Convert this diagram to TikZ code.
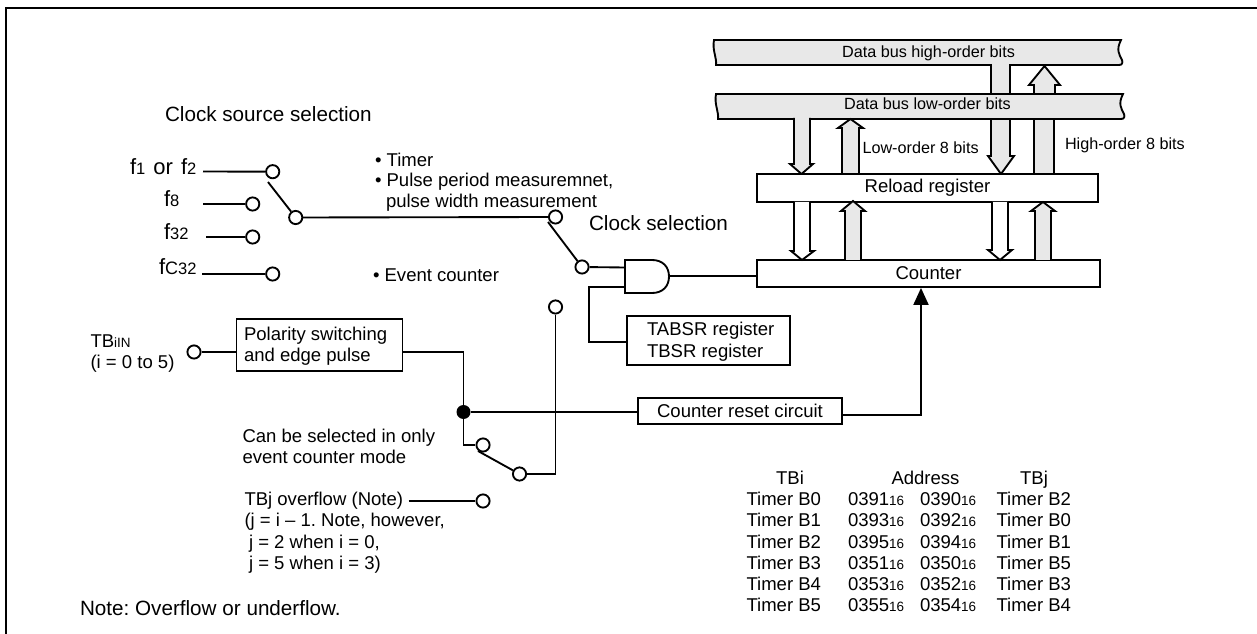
\documentclass[tikz,border=0pt]{standalone}
\usepackage{fontspec}
\setmainfont{Liberation Sans}
\frenchspacing
\newcommand{\sza}{\fontsize{13.9pt}{16pt}\selectfont}
\newcommand{\szb}{\fontsize{12.15pt}{14pt}\selectfont}
\newcommand{\szc}{\fontsize{15.5pt}{18pt}\selectfont}
\newcommand{\szs}{\fontsize{10.1pt}{12pt}\selectfont}
\newcommand{\szf}{\fontsize{16.5pt}{19pt}\selectfont}
\newcommand{\szd}{\fontsize{12.4pt}{14pt}\selectfont}
\newcommand{\szC}{\fontsize{13.5pt}{16pt}\selectfont}
\newcommand{\subs}[1]{{\szs #1}}
\newcommand{\addr}[1]{#1\subs{16}}
\colorlet{busgray}{black!9}
\tikzset{
  x=0.75pt,y=-0.75pt,
  wire/.style={line width=1.4pt,line join=miter},
  term/.style={circle,draw,fill=white,line width=1.4pt,minimum size=9.9pt,inner sep=0pt},
  jdot/.style={circle,fill=black,minimum size=10.5pt,inner sep=0pt},
  boxn/.style={rectangle,draw,fill=white,line width=1.4pt,inner sep=0pt},
  wh/.style 2 args={minimum width=#1*0.75pt,minimum height=#2*0.75pt},
  lbl/.style={inner sep=0pt,outer sep=0pt,anchor=base west,font=\sza,yshift=-0.75pt},
  lblc/.style={inner sep=0pt,outer sep=0pt,anchor=base,font=\sza,yshift=-0.75pt},
  blk/.style={draw,line width=1.4pt,line join=miter,fill=#1},
}
% block arrows: xl xr wl wr xtip ystart yhead ytip colour
\newcommand{\blockarrow}[9]{\path[blk=#9] (#1,#6) -- (#1,#7) -- (#3,#7) -- (#5,#8) -- (#4,#7) -- (#2,#7) -- (#2,#6);}
\begin{document}
\begin{tikzpicture}
\useasboundingbox (0,0) rectangle (1257,634);
\fill[white] (0,0) rectangle (1257,634);
% frame
\draw[line width=1.6pt] (6,634) -- (6,8) -- (1257,8);
% high bus and the arrows that pass behind the low bus
\path[blk=busgray] (714,40) -- (1121,40) .. controls (1116,50) and (1119,54) .. (1122,60) .. controls (1123,63) and (1122,65) .. (1119,65)
  -- (716,65) .. controls (717,58) and (712,50) .. (714,40) -- cycle;
\blockarrow{991}{1010}{991}{1010}{1001}{64}{94}{94}{busgray}
\blockarrow{991}{1010}{988}{1014}{1001}{119}{156}{174}{busgray}
\blockarrow{1034}{1054}{1034}{1054}{1044}{174}{119}{119}{busgray}
\blockarrow{1034}{1055}{1029}{1060}{1044.5}{94}{85}{66}{busgray}
% low bus
\path[blk=busgray] (716,94) -- (1123,94) .. controls (1118,104) and (1121,108) .. (1124,114) .. controls (1125,117) and (1124,119) .. (1121,119)
  -- (718,119) .. controls (719,112) and (714,104) .. (716,94) -- cycle;
\node[lblc,font=\szb] (bushigh) at (928.5,57) {Data bus high-order bits};
\node[lblc,font=\szb] (buslow) at (927.5,108.5) {Data bus low-order bits};
\blockarrow{794}{810}{790}{813}{801.5}{118}{164}{174}{busgray}
\blockarrow{842}{859}{838}{863}{850.5}{174}{128}{119}{busgray}
% register boxes
\node[boxn,wh={341}{28},font=\sza] (reload) at (927.5,188) {Reload register};
\node[boxn,wh={343}{27},font=\sza] (counter) at (928.5,273.5) {Counter};
\node[lbl,font=\szb] (lowbits) at (862.5,153) {Low-order 8 bits};
\node[lbl,font=\szb] (highbits) at (1065,149) {High-order 8 bits};
% block arrows between reload register and counter
\blockarrow{794}{810}{791}{814}{802}{202}{251}{260}{white}
\blockarrow{845}{861}{841}{865}{853}{260}{211}{201}{busgray}
\blockarrow{992}{1008}{988}{1012}{1000}{202}{250}{260}{white}
\blockarrow{1035}{1051}{1031}{1055}{1043}{260}{211}{202}{busgray}
% clock source selection
\node[lbl,font=\szc] (clksrc) at (165,121) {Clock source selection};
\node[lbl,font=\szf] (f1) at (130,173.5) {f{\szd 1}\hspace{1.5pt} or\hspace{1.5pt} f{\szd 2}};
\node[lbl,font=\szf] (f8) at (164,206) {f{\szd 8}};
\node[lbl,font=\szf] (f32) at (164,239) {f{\szd 32}};
\node[lbl,font=\szf] (fc32) at (159,274) {f{\szC C}{\szd 32}};
\coordinate (f1s) at (203,171.5);
\coordinate (f8s) at (203,204);
\coordinate (f32s) at (206,237);
\coordinate (fc32s) at (202,274);
\node[term] (t1) at (272.7,171.7) {};
\node[term] (t8) at (252.7,204) {};
\node[term] (t32) at (252.7,237) {};
\node[term] (tc32) at (272.7,274) {};
\node[term] (srcsw) at (295.7,217.5) {};
\draw[wire] (f1s) -- (t1);
\draw[wire] (f8s) -- (t8);
\draw[wire] (f32s) -- (t32);
\draw[wire] (fc32s) -- (tc32);
\coordinate (lev1) at (268,182);
\draw[wire] (lev1) -- (srcsw);
% mode labels
\node[lbl] (m1) at (375,166) {• Timer};
\node[lbl] (m2) at (375,186) {• Pulse period measuremnet,};
\node[lbl] (m3) at (386,207) {pulse width measurement};
\node[lbl] (m4) at (373,281) {• Event counter};
\node[lbl,font=\szc] (clksel) at (589,230) {Clock selection};
% clock selection switch
\node[term] (tmode) at (555.5,217) {};
\node[term] (tgate) at (582,267) {};
\node[term] (tevent) at (555.5,307) {};
\draw[wire] (srcsw) -- (tmode);
\coordinate (lev2) at (548,222);
\draw[wire] (lev2) -- (tgate);
% AND gate
\coordinate (andA) at (625,267.5);
\coordinate (andB) at (625,287);
\coordinate (andO) at (669,276);
\draw[wire] (625,260) -- (652,260) .. controls (663,260) and (669,267) .. (669,276.5) .. controls (669,286) and (663,293) .. (652,293) -- (625,293) -- cycle;
\draw[wire] (tgate) -- (andA);
\draw[wire] (andO) -- (andO -| counter.west);
% TABSR
\node[boxn,wh={163}{49}] (tabsr) at (708.5,340.5) {};
\node[lbl] (tabsr1) at (647,335) {TABSR register};
\node[lbl] (tabsr2) at (647,357) {TBSR register};
\draw[wire] (andB) -- (589,287) -- (589,342) -- (tabsr.west |- 0,342);
% TBiIN and polarity box
\node[lbl] (tbin) at (90.5,347) {TB\subs{iIN}};
\node[lbl] (tbin2) at (90.5,368) {(i = 0 to 5)};
\node[term] (tin) at (194,352) {};
\node[boxn,wh={166}{52}] (pol) at (319.5,345) {};
\node[lbl] (pol1) at (244,340) {Polarity switching};
\node[lbl] (pol2) at (244,361) {and edge pulse};
\draw[wire] (tin) -- (tin -| pol.west);
% junction and reset
\node[jdot] (jct) at (463.5,412) {};
\node[boxn,wh={204}{26},font=\sza] (reset) at (740,411) {Counter reset circuit};
\draw[wire] (pol.east |- 0,352) -- (463.5,352) -- (jct);
\draw[wire] (jct) -- (jct -| reset.west);
\coordinate (resetO) at (842,415);
\coordinate (cntIn) at (921,288);
\draw[wire] (resetO) -- (921,415) -- (921,304);
\fill (cntIn) -- (928.8,305) -- (913.2,305) -- cycle;
% overflow switch
\node[term] (tsel) at (483,445) {};
\node[term] (tsel2) at (519.5,474) {};
\draw[wire] (jct) -- (463.5,445) -- (tsel);
\coordinate (lev3) at (478,451);
\draw[wire] (lev3) -- (tsel2);
\draw[wire] (tsel2) -- (555.5,474) -- (tevent);
\node[lbl] (can1) at (242.5,442) {Can be selected in only};
\node[lbl] (can2) at (242.5,463) {event counter mode};
\node[lbl] (ovf1) at (244.5,505) {TBj overflow (Note)};
\node[lbl] (ovf2) at (244.5,526) {(j = i – 1. Note, however,};
\node[lbl] (ovf3) at (249,547) {j = 2 when i = 0,};
\node[lbl] (ovf4) at (249,568) {j = 5 when i = 3)};
\node[term] (tovf) at (483,501) {};
\coordinate (ovfs) at (408.5,501);
\draw[wire] (ovfs) -- (tovf);
\node[lbl,font=\szc] (note) at (80,614) {Note: Overflow or underflow.};
% table
\node[lblc] (h1) at (790,483) {TBi};
\node[lblc] (h2) at (925.5,483) {Address};
\node[lblc] (h3) at (1034,483) {TBj};
\foreach \yy/\a/\b/\c/\d in {505/Timer B0/0391/0390/Timer B2,526/Timer B1/0393/0392/Timer B0,547/Timer B2/0395/0394/Timer B1,568/Timer B3/0351/0350/Timer B5,589/Timer B4/0353/0352/Timer B3,610/Timer B5/0355/0354/Timer B4}{
  \node[lbl] (r\yy a) at (746.5,\yy) {\a};
  \node[lbl] (r\yy b) at (848,\yy) {\addr{\b}};
  \node[lbl] (r\yy c) at (920,\yy) {\addr{\c}};
  \node[lbl] (r\yy d) at (996.5,\yy) {\d};
}
\end{tikzpicture}
\end{document}
